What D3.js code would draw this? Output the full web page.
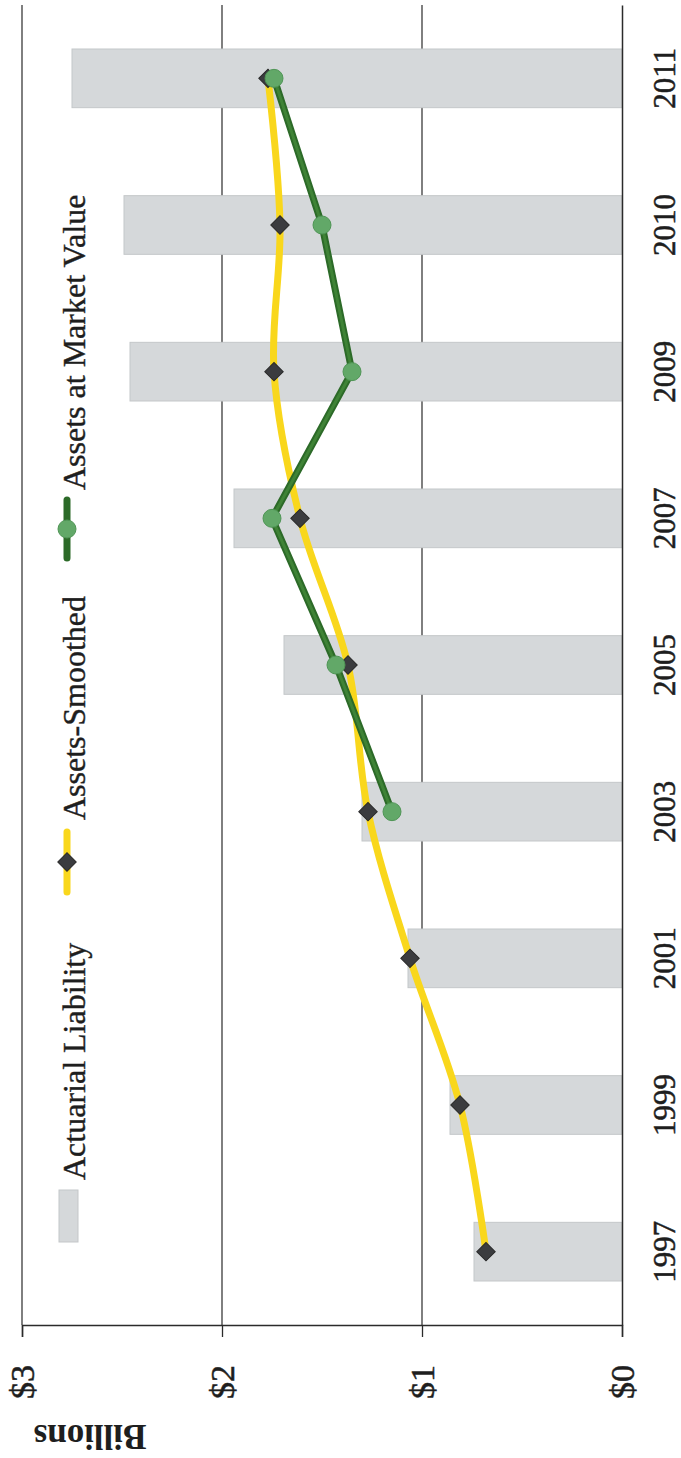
<!DOCTYPE html>
<html>
<head>
<meta charset="utf-8">
<script src="https://cdn.jsdelivr.net/npm/d3@7"></script>
<style>
  html, body { margin: 0; padding: 0; background: #fff; }
  svg { display: block; }
  svg text { font-family: 'Liberation Serif', 'Times New Roman', serif; }
</style>
</head>
<body>
<svg id="chart" width="681" height="1458"></svg>
<script>
// chart is drawn sideways: categories run bottom -> top, values right -> left

const years     = ['1997', '1999', '2001', '2003', '2005', '2007', '2009', '2010', '2011']
const liability = [0.74, 0.86, 1.07, 1.30, 1.69, 1.94, 2.46, 2.49, 2.75]
const smoothed  = [0.68, 0.81, 1.06, 1.27, 1.37, 1.61, 1.74, 1.71, 1.77]
const marketYrs = ['2003', '2005', '2007', '2009', '2010', '2011']
const market    = [1.15, 1.43, 1.75, 1.35, 1.50, 1.74]
const valueTicks = [0, 1, 2, 3]

const svg = d3.select('#chart')

const x = d3.scaleLinear().domain([0, 3]).range([622, 22])
const y = d3.scaleBand().domain(years).range([1325, 5])
  .paddingInner(0.6).paddingOuter(0.3)
const cy = d => y(d) + y.bandwidth() / 2

// gridlines
svg.append('g')
  .selectAll('line')
  .data(valueTicks.filter(v => v > 0))
  .enter()
  .append('line')
  .attr('x1', d => x(d)).attr('x2', d => x(d))
  .attr('y1', 5).attr('y2', 1325)
  .attr('stroke', '#2b2b2b')
  .attr('stroke-width', 1.2)

// bars — actuarial liability
svg.append('g')
  .selectAll('rect')
  .data(years)
  .enter()
  .append('rect')
  .attr('x', (d, i) => x(liability[i]))
  .attr('y', d => y(d))
  .attr('width', (d, i) => x(0) - x(liability[i]))
  .attr('height', y.bandwidth())
  .attr('fill', '#d5d8da')
  .attr('stroke', '#c4c7c9')
  .attr('stroke-width', 1)

// value axis (bottom)
const xAxis = svg.append('g')
  .attr('transform', 'translate(0,1325)')
  .call(d3.axisBottom(x).tickValues(valueTicks).tickSize(12).tickFormat(d => '$' + d))
xAxis.attr('font-family', null)
xAxis.select('.domain').attr('stroke', '#2b2b2b').attr('stroke-width', 1.5)
xAxis.selectAll('.tick line').attr('stroke', '#2b2b2b').attr('stroke-width', 1.3)
xAxis.selectAll('.tick text')
  .attr('fill', '#1e1e1e')
  .attr('stroke', '#1e1e1e').attr('stroke-width', 0.5)
  .attr('font-size', '34px')
  .attr('text-anchor', 'middle')
  .attr('y', 0).attr('dy', '0.35em')
  .attr('transform', 'translate(0,57) rotate(-90)')

// category axis (right)
const yAxis = svg.append('g')
  .attr('transform', 'translate(622,0)')
  .call(d3.axisRight(y).tickSize(0))
yAxis.attr('font-family', null)
yAxis.select('.domain').attr('stroke', '#2b2b2b').attr('stroke-width', 1.5)
yAxis.selectAll('.tick text')
  .attr('fill', '#1e1e1e')
  .attr('stroke', '#1e1e1e').attr('stroke-width', 0.5)
  .attr('font-size', '31px')
  .attr('text-anchor', 'middle')
  .attr('x', 0).attr('dy', '0.35em')
  .attr('transform', 'translate(42,0) rotate(-90)')

// axis title
svg.append('text')
  .attr('transform', 'translate(90,1437) rotate(180)')
  .attr('text-anchor', 'middle')
  .attr('dy', '0.35em')
  .attr('font-size', '35px')
  .attr('font-weight', 'bold')
  .attr('fill', '#1e1e1e')
  .text('Billions')

// smoothed assets — yellow curve with diamonds
const smoothLine = d3.line()
  .x(d => x(d.v)).y(d => cy(d.k))
  .curve(d3.curveCatmullRom.alpha(0.5))
const smoothData = years.map((k, i) => ({ k, v: smoothed[i] }))
svg.append('path')
  .datum(smoothData)
  .attr('d', smoothLine)
  .attr('fill', 'none')
  .attr('stroke', '#f9d71c')
  .attr('stroke-width', 7)
  .attr('stroke-linejoin', 'round')

const diamond = d3.symbol().type(d3.symbolSquare).size(170)
svg.append('g')
  .selectAll('path')
  .data(smoothData)
  .enter()
  .append('path')
  .attr('d', diamond)
  .attr('transform', d => `translate(${x(d.v)},${cy(d.k)}) rotate(45)`)
  .attr('fill', '#3b3c3f')
  .attr('stroke', '#2a2a2a')
  .attr('stroke-width', 1)

// market value — green straight line with circles
const marketData = marketYrs.map((k, i) => ({ k, v: market[i] }))
const mvLine = d3.line().x(d => x(d.v)).y(d => cy(d.k))
svg.append('path')
  .datum(marketData)
  .attr('d', mvLine)
  .attr('fill', 'none')
  .attr('stroke', '#2c6a28')
  .attr('stroke-width', 7)
  .attr('stroke-linejoin', 'round')
svg.append('path')
  .datum(marketData)
  .attr('d', mvLine)
  .attr('fill', 'none')
  .attr('stroke', '#3f8336')
  .attr('stroke-width', 3)
  .attr('stroke-linejoin', 'round')

svg.append('g')
  .selectAll('circle')
  .data(marketData)
  .enter()
  .append('circle')
  .attr('cx', d => x(d.v))
  .attr('cy', d => cy(d.k))
  .attr('r', 9)
  .attr('fill', '#62a868')
  .attr('stroke', '#4f9555')
  .attr('stroke-width', 1)

// legend
const legend = svg.append('g')

legend.append('rect')
  .attr('x', 59).attr('y', 1190)
  .attr('width', 19).attr('height', 52)
  .attr('fill', '#d5d8da')
  .attr('stroke', '#c4c7c9')
legend.append('text')
  .attr('transform', 'translate(74,1180) rotate(-90)')
  .attr('dy', '0.35em')
  .attr('font-size', '32px')
  .attr('fill', '#1e1e1e')
  .attr('stroke', '#1e1e1e').attr('stroke-width', 0.4)
  .text('Actuarial Liability')

legend.append('line')
  .attr('x1', 67).attr('x2', 67)
  .attr('y1', 832).attr('y2', 892)
  .attr('stroke', '#f9d71c')
  .attr('stroke-width', 7)
  .attr('stroke-linecap', 'round')
legend.append('path')
  .attr('d', diamond)
  .attr('transform', 'translate(67,862) rotate(45)')
  .attr('fill', '#3b3c3f')
  .attr('stroke', '#2a2a2a')
legend.append('text')
  .attr('transform', 'translate(74,820) rotate(-90)')
  .attr('dy', '0.35em')
  .attr('font-size', '32px')
  .attr('fill', '#1e1e1e')
  .attr('stroke', '#1e1e1e').attr('stroke-width', 0.4)
  .text('Assets-Smoothed')

legend.append('line')
  .attr('x1', 67).attr('x2', 67)
  .attr('y1', 500).attr('y2', 558)
  .attr('stroke', '#2c6a28')
  .attr('stroke-width', 7)
  .attr('stroke-linecap', 'round')
legend.append('circle')
  .attr('cx', 67).attr('cy', 529).attr('r', 9)
  .attr('fill', '#62a868')
  .attr('stroke', '#4f9555')
legend.append('text')
  .attr('transform', 'translate(74,490) rotate(-90)')
  .attr('dy', '0.35em')
  .attr('font-size', '32px')
  .attr('fill', '#1e1e1e')
  .attr('stroke', '#1e1e1e').attr('stroke-width', 0.4)
  .text('Assets at Market Value')
</script>
</body>
</html>
